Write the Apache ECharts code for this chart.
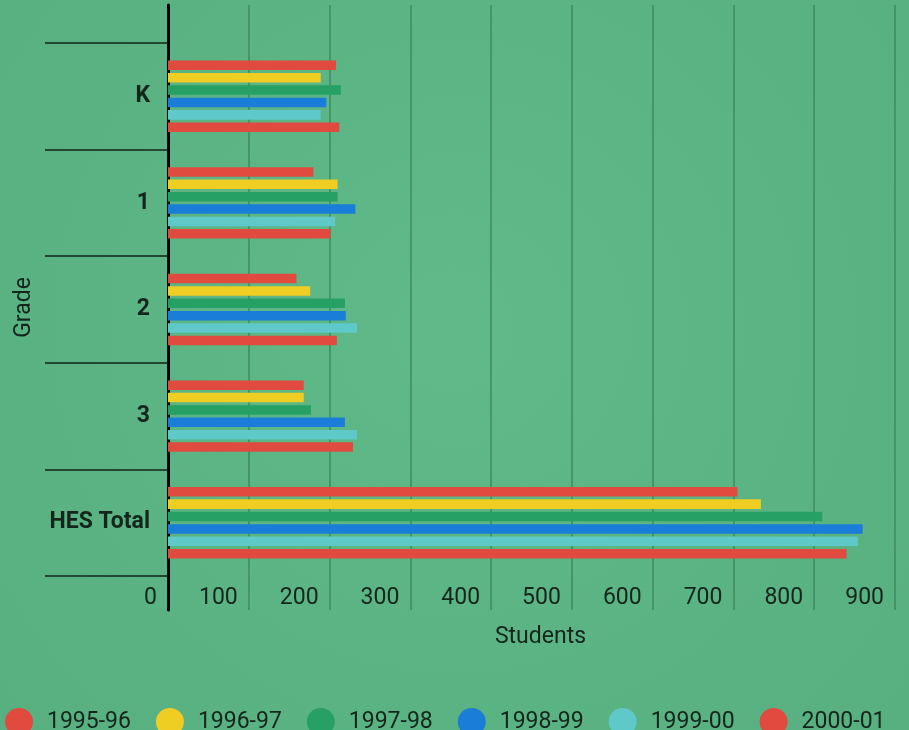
<!DOCTYPE html>
<html>
<head>
<meta charset="utf-8">
<script src="https://cdn.jsdelivr.net/npm/echarts@6/dist/echarts.min.js"></script>
<style>
  html, body { margin: 0; padding: 0; background: #5db686; }
  #chart { width: 909px; height: 730px; }
</style>
</head>
<body>
<div id="chart"></div>
<script>
// Enrollment by grade, one bar per school year
const grades = ['K', '1', '2', '3', 'HES Total'];
const years = ['1995-96', '1996-97', '1997-98', '1998-99', '1999-00', '2000-01'];
const students9596 = [208, 180, 159, 168, 705];
const students9697 = [189, 210, 176, 168, 734];
const students9798 = [214, 210, 219, 177, 810];
const students9899 = [196, 232, 220, 219, 860];
const students9900 = [189, 207, 234, 234, 854];
const students0001 = [212, 201, 209, 229, 840];
const xTicks = [0, 100, 200, 300, 400, 500, 600, 700, 800, 900];

const seriesValues = [students9596, students9697, students9798, students9899, students9900, students0001];
const palette = ['#e04a3f', '#f0cd23', '#26a064', '#1a7dd7', '#5fc8c8', '#e04a3f'];

const ink = '#14261b';
const font = 'Roboto';
const left = 168, right = 14;

const chart = echarts.init(document.getElementById('chart'));
chart.setOption({
  backgroundColor: {
    type: 'radial', x: 0.5, y: 0.45, r: 0.8,
    colorStops: [{ offset: 0, color: '#60b988' }, { offset: 1, color: '#58b080' }]
  },
  animation: false,
  color: palette,
  textStyle: { fontFamily: font, color: ink },
  legend: {
    data: years,
    left: 0,
    top: 703,
    icon: 'circle',
    itemWidth: 28,
    itemHeight: 28,
    itemGap: 25,
    textStyle: { fontFamily: font, fontSize: 23, color: ink, padding: [0, 0, 0, 9] }
  },
  grid: [
    // frame: grid lines, value labels and the vertical axis line
    { left: left, right: right, top: 5, bottom: 120, outerBoundsMode: 'none', containLabel: false },
    // bars and grade categories
    { left: left, right: right, top: 43, bottom: 154, outerBoundsMode: 'none', containLabel: false }
  ],
  xAxis: [
    {
      gridIndex: 0, type: 'value', min: 0, max: 900, interval: 100,
      name: 'Students', nameLocation: 'middle', nameGap: 16,
      nameTextStyle: { fontSize: 23, color: ink, verticalAlign: 'top', padding: [0, 0, 0, 18] },
      axisLine: { show: false }, axisTick: { show: false },
      splitLine: { show: true, lineStyle: { color: '#3f8b5d', width: 1.5 } },
      axisLabel: {
        inside: true, margin: 0, fontSize: 23, color: ink, align: 'right',
        padding: [0, 11, 0, 0], showMinLabel: true, showMaxLabel: true,
        formatter: v => xTicks.includes(v) ? String(v) : ''
      }
    },
    {
      gridIndex: 1, type: 'value', min: 0, max: 900, interval: 100,
      axisLine: { show: false }, axisTick: { show: false },
      axisLabel: { show: false }, splitLine: { show: false }
    }
  ],
  yAxis: [
    {
      gridIndex: 0, type: 'value', min: 0, max: 1,
      name: 'Grade', nameLocation: 'middle', nameGap: 132, nameRotate: 90,
      nameTextStyle: { fontSize: 23, color: ink },
      axisLine: { show: true, lineStyle: { color: '#000000', width: 3 } },
      axisTick: { show: false }, axisLabel: { show: false }, splitLine: { show: false }
    },
    {
      gridIndex: 1, type: 'category', data: grades, inverse: true,
      axisLine: { show: false },
      axisTick: { show: true, length: 123, alignWithLabel: false, lineStyle: { color: '#14221a', width: 1.5 } },
      axisLabel: { margin: 18, fontSize: 23, fontWeight: 'bold', color: ink },
      splitLine: { show: false }
    }
  ],
  series: years.map((y, i) => ({
    name: y,
    type: 'bar',
    xAxisIndex: 1,
    yAxisIndex: 1,
    data: seriesValues[i],
    barGap: '30%',
    barCategoryGap: '33%',
    itemStyle: { color: palette[i] }
  }))
});
</script>
</body>
</html>
